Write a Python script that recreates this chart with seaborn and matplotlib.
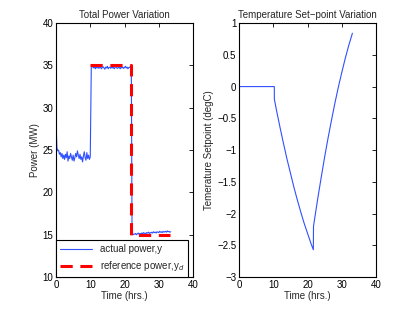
import numpy as np
import pandas as pd
import seaborn as sb
from matplotlib import pyplot as plt

sb.set_style('white')
plt.rcParams['font.family'] = ['Liberation Sans', 'DejaVu Sans']
plt.rcParams.update({'font.size': 7, 'xtick.direction': 'in', 'ytick.direction': 'in',
                     'xtick.top': True, 'ytick.right': True,
                     'xtick.major.size': 3, 'ytick.major.size': 3,
                     'xtick.major.width': 0.6, 'ytick.major.width': 0.6,
                     'axes.linewidth': 0.8, 'axes.edgecolor': 'k'})

# actual power, three segments on a 0.25 h grid
t_low = np.arange(0, 10.01, 0.25)
p_low = [28.5, 25.3, 24.9, 25.0, 24.5, 24.7, 24.2, 24.6, 24.0, 24.4, 23.9, 24.5,
         24.1, 24.8, 23.7, 24.3, 24.0, 24.6, 24.2, 23.8, 24.4, 23.7, 24.1, 24.6,
         24.2, 24.9, 24.4, 24.0, 24.5, 23.9, 24.2, 23.6, 24.3, 24.8, 24.1, 23.8,
         24.7, 24.0, 24.4, 23.9, 24.2]
t_high = np.arange(10.5, 22.01, 0.25)
p_high = [35.0, 34.8, 34.7, 34.85, 34.6, 34.8, 34.7, 34.9, 34.65, 34.75, 34.8, 34.6,
          34.75, 34.85, 34.7, 34.55, 34.8, 34.7, 34.9, 34.6, 34.75, 34.8, 34.65, 34.85,
          34.7, 34.8, 34.6, 34.75, 34.9, 34.7, 34.65, 34.8, 34.75, 34.6, 34.85, 34.7,
          34.8, 34.65, 34.75, 34.9, 34.7, 34.8, 34.6, 34.75, 34.8, 34.7, 34.5]
t_end = np.arange(22.5, 33.51, 0.25)
p_end = [15.0, 15.1, 15.05, 15.15, 15.0, 15.1, 15.2, 15.05, 15.15, 15.1, 15.2, 15.1,
         15.25, 15.15, 15.2, 15.1, 15.25, 15.2, 15.3, 15.15, 15.25, 15.2, 15.3, 15.2,
         15.35, 15.25, 15.3, 15.2, 15.35, 15.3, 15.25, 15.4, 15.3, 15.35, 15.25, 15.4,
         15.3, 15.35, 15.4, 15.3, 15.45, 15.35, 15.4, 15.3, 15.35]
t_jumps = [10.3, 22.2]

time_act = np.concatenate([t_low, [t_jumps[0]], t_high, [t_jumps[1]], t_end])
power_act = np.concatenate([p_low, [34.8], p_high, [15.2], p_end])

time_ref = [10.0, 21.8, 21.8, 33.4]
power_ref = [35.0, 35.0, 15.0, 15.0]

time_sp = [0, 10.3, 10.32, 11, 12, 13, 14, 15, 16, 17, 18, 19, 20, 21, 21.7, 21.75,
           22, 23, 24, 25, 26, 27, 28, 29, 30, 31, 32, 33, 33.1]
setpoint = [0, 0, -0.2, -0.39, -0.65, -0.9, -1.14, -1.36, -1.58, -1.78, -1.97, -2.15,
            -2.31, -2.47, -2.57, -2.2,
            -2.11, -1.76, -1.43, -1.11, -0.81, -0.53, -0.26, -0.01, 0.22, 0.44, 0.64,
            0.82, 0.84]

act = pd.DataFrame({'t': time_act, 'p': power_act})
ref = pd.DataFrame({'t': time_ref, 'p': power_ref})
sp = pd.DataFrame({'t': time_sp, 's': setpoint})

fig = plt.figure(figsize=(4.15, 3.12), dpi=100)
ax1 = fig.add_axes([0.135, 0.112, 0.33, 0.814])
ax2 = fig.add_axes([0.576, 0.112, 0.33, 0.814])

sb.lineplot(data=act, x='t', y='p', ax=ax1, color='#3050ff', lw=0.8,
            estimator=None, sort=False, label='actual power,y')
sb.lineplot(data=ref, x='t', y='p', ax=ax1, color='#ff0000', lw=2.2,
            estimator=None, sort=False, label='reference power,y$_d$', dashes=False)
ax1.lines[-1].set_dashes([4, 2.5])
ax1.set_xlim(0, 40)
ax1.set_ylim(10, 40)
ax1.set_xticks([0, 10, 20, 30, 40])
ax1.set_yticks([10, 15, 20, 25, 30, 35, 40])
ax1.set_xlabel('Time (hrs.)', labelpad=1)
ax1.set_ylabel('Power (MW)', labelpad=2)
ax1.set_title('Total Power Variation', fontsize=7, pad=4)
leg = ax1.legend(loc='lower left', fancybox=False, edgecolor='k', framealpha=1,
                 borderaxespad=0, handlelength=3.3, fontsize=7, labelspacing=0.5)
leg.get_frame().set_linewidth(0.8)

sb.lineplot(data=sp, x='t', y='s', ax=ax2, color='#3050ff', lw=0.8,
            estimator=None, sort=False)
ax2.set_xlim(0, 40)
ax2.set_ylim(-3, 1)
ax2.set_xticks([0, 10, 20, 30, 40])
ax2.set_yticks([-3, -2.5, -2, -1.5, -1, -0.5, 0, 0.5, 1])
ax2.set_yticklabels(['\u22123', '\u22122.5', '\u22122', '\u22121.5', '\u22121', '\u22120.5', '0', '0.5', '1'])
ax2.set_xlabel('Time (hrs.)', labelpad=1)
ax2.set_ylabel('Temerature Setpoint (degC)', labelpad=2)
ax2.set_title('Temperature Set\u2212point Variation', fontsize=7, pad=4)

for ax in (ax1, ax2):
    for s in ax.spines.values():
        s.set_visible(True)
        s.set_color('k')
    ax.tick_params(labelsize=7, pad=2, colors='k')

fig.savefig('out.png', dpi=100)
